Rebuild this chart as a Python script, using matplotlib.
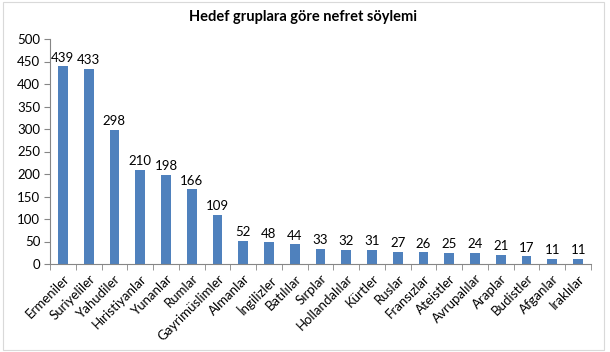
import matplotlib
matplotlib.use("Agg")
import matplotlib.pyplot as plt
import numpy as np

categories = ["Ermeniler", "Suriyeliler", "Yahudiler", "Hıristiyanlar", "Yunanlar", "Rumlar",
              "Gayrimüslimler", "Almanlar", "İngilizler", "Batılılar", "Sırplar", "Hollandalılar",
              "Kürtler", "Ruslar", "Fransızlar", "Ateistler", "Avrupalılar", "Araplar", "Budistler",
              "Afganlar", "Iraklılar"]
values = [439, 433, 298, 210, 198, 166, 109, 52, 48, 44, 33, 32, 31, 27, 26, 25, 24, 21, 17, 11, 11]
yticks = [0, 50, 100, 150, 200, 250, 300, 350, 400, 450, 500]
title = "Hedef gruplara göre nefret söylemi"

plt.rcParams['font.family'] = ['Lato', 'DejaVu Sans']

fig = plt.figure(figsize=(6.1, 3.52), dpi=100)
ax = fig.add_axes([50/610, 1-264/352, (591-50)/610, (264-39)/352])

n = len(categories)
x = np.arange(n)
color = "#4F81BD"
ax.bar(x, values, width=0.38, color=color, zorder=2)
for xi, v in zip(x, values):
    ax.text(xi, v + 6, str(v), ha="center", va="bottom", fontsize=9.5, color="black")

ax.set_xlim(-0.5, n - 0.5)
ax.set_ylim(0, 500)
ax.set_yticks(yticks)
ax.tick_params(axis="y", labelsize=9.5, length=4, color="#868686", direction="out", pad=3)
ax.set_xticks(x)
ax.set_xticklabels(categories, rotation=45, ha="right", rotation_mode="anchor", fontsize=9.5)
ax.tick_params(axis="x", length=0, pad=6)
ax.set_xticks(np.arange(n + 1) - 0.5, minor=True)
ax.tick_params(axis="x", which="minor", length=4, color="#868686", direction="out")

for s in ["top", "right"]:
    ax.spines[s].set_visible(False)
for s in ["left", "bottom"]:
    ax.spines[s].set_color("#868686")
    ax.spines[s].set_linewidth(0.8)

fig.text(303/610, 1 - 17/352, title, ha="center", va="center", fontsize=10.5, fontweight="bold")

border = plt.Rectangle((3/610, 2/352), 601/610, 0.99, transform=fig.transFigure, fill=False,
                       edgecolor="#D9D9D9", linewidth=0.8)
fig.add_artist(border)

fig.savefig("out.png", dpi=100)
